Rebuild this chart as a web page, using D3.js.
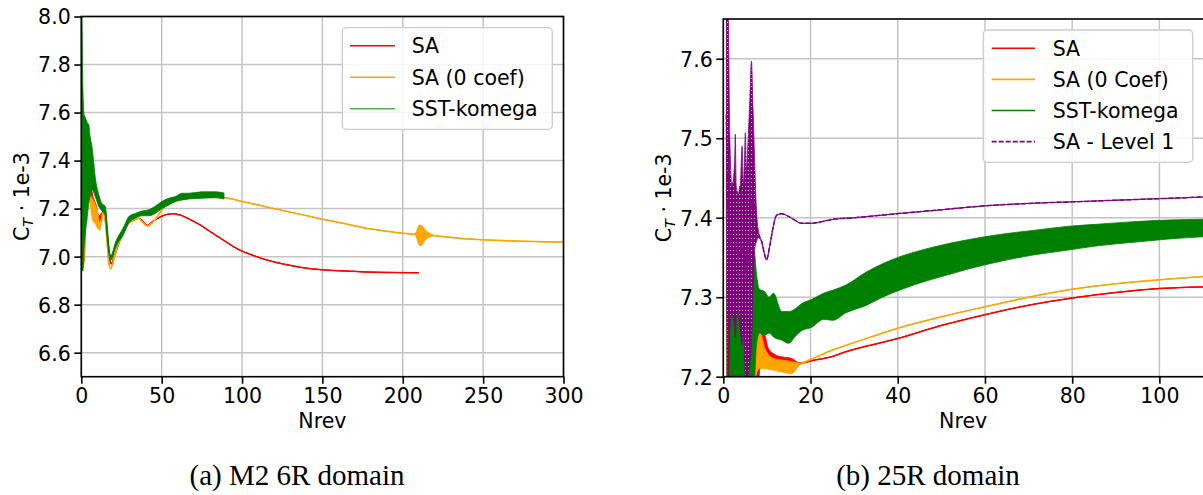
<!DOCTYPE html>
<html>
<head>
<meta charset="utf-8">
<script src="https://cdn.jsdelivr.net/npm/d3@7"></script>
<style>
  html, body { margin: 0; padding: 0; background: #fff; }
  svg { display: block; }
</style>
</head>
<body>
<svg id="fig" width="1203" height="495"></svg>
<script>
// Thrust coefficient history, C_T (x 1e-3) against revolutions.
// Each row is [Nrev, value] or [Nrev, low, high] where the signal
// oscillates too fast to resolve: low/high bound the oscillation band.

// ---- (a) M2 6R domain ----
const leftXTicks = [0, 50, 100, 150, 200, 250, 300];
const leftYTicks = [6.6, 6.8, 7.0, 7.2, 7.4, 7.6, 7.8, 8.0];
const leftLabels = ["SA", "SA (0 coef)", "SST-komega"];

const leftSA = [
  [0.8, 6.95, 7.20], [2, 7.00, 7.35], [3, 7.20, 7.50], [4, 7.30, 7.55], [5, 7.27, 7.40],
  [7, 7.18, 7.26], [9, 7.15, 7.22], [11, 7.13, 7.17], [12.5, 7.16, 7.18], [13.5, 7.18, 7.19],
  [15, 7.15, 7.16], [16.5, 7.05, 7.06], [17.5, 6.99, 7.00], [18.6, 6.97], [20, 6.99],
  [22, 7.03], [25.3, 7.09], [29.5, 7.14], [33.6, 7.155], [35.7, 7.16], [37.8, 7.15],
  [41, 7.13], [45, 7.15], [50, 7.168], [54, 7.177], [57.3, 7.179], [62, 7.172],
  [67, 7.157], [73.9, 7.132], [80, 7.105], [87, 7.075], [94.6, 7.042], [100, 7.023],
  [107, 7.005], [115.4, 6.986], [125, 6.97], [136, 6.956], [150, 6.945], [165, 6.94],
  [177.6, 6.936], [195, 6.934], [210, 6.933]
];

const leftSA0 = [
  [0.8, 6.95, 7.15], [1.5, 6.96, 7.25], [2.5, 7.12, 7.28], [3.5, 7.20, 7.27], [4.5, 7.24, 7.28],
  [5.5, 7.22, 7.26], [7, 7.15, 7.24], [8.5, 7.14, 7.22], [10, 7.12, 7.19], [11.5, 7.11, 7.14],
  [12.5, 7.14, 7.16], [13.5, 7.18, 7.19], [14.5, 7.16, 7.18], [16, 7.06, 7.08], [17, 6.97, 6.99],
  [18.2, 6.95], [19.5, 6.97], [21, 7.01], [25.3, 7.09], [29.5, 7.14], [33.6, 7.155],
  [35.7, 7.16], [37.8, 7.145], [41, 7.128], [44, 7.14], [48, 7.174], [52, 7.21],
  [58.5, 7.23], [67, 7.243], [79, 7.248], [89.6, 7.245], [100, 7.23], [108, 7.218],
  [120, 7.20], [136, 7.177], [150, 7.156], [165, 7.136], [177.6, 7.118], [190, 7.106],
  [200, 7.097], [207, 7.093], [208.5, 7.08, 7.105], [210, 7.05, 7.13], [211.5, 7.045, 7.132],
  [213, 7.06, 7.12], [215, 7.075, 7.105], [217.5, 7.083, 7.095], [220, 7.087], [235, 7.077],
  [250, 7.07], [275, 7.064], [300, 7.06]
];

const leftSST = [
  [0.3, 6.95, 8.05], [1.0, 6.94, 7.70], [1.8, 7.05, 7.59], [2.5, 7.10, 7.58], [3.5, 7.15, 7.56],
  [4.6, 7.22, 7.55], [5.5, 7.25, 7.50], [6.6, 7.28, 7.46], [7.6, 7.27, 7.40], [8.7, 7.25, 7.33],
  [10.8, 7.21, 7.26], [12.9, 7.19, 7.22], [14.9, 7.17, 7.21], [16.0, 7.08, 7.14], [17.0, 7.02, 7.06],
  [18.0, 6.985, 7.005], [19.0, 6.99, 7.01], [21, 7.03, 7.055], [23, 7.06, 7.085], [25.3, 7.08, 7.11],
  [27.5, 7.11, 7.14], [29.5, 7.14, 7.167], [33.6, 7.16, 7.18], [37.8, 7.17, 7.19], [41.9, 7.17, 7.195],
  [46, 7.18, 7.21], [50.2, 7.20, 7.23], [54.4, 7.215, 7.243], [58.5, 7.23, 7.25], [62.7, 7.236, 7.264],
  [66.8, 7.24, 7.264], [75, 7.243, 7.27], [83.4, 7.245, 7.27], [88.8, 7.24, 7.265]
];

// ---- (b) 25R domain ----
const rightXTicks = [0, 20, 40, 60, 80, 100];
const rightYTicks = [7.2, 7.3, 7.4, 7.5, 7.6];
const rightLabels = ["SA", "SA (0 Coef)", "SST-komega", "SA - Level 1"];

const rightSA = [
  [0.8, 7.10, 7.70], [1.1, 7.10], [5.0, 7.10], [5.5, 7.15, 7.235], [6.2, 7.15, 7.20],
  [7.5, 7.15, 7.20], [8.6, 7.22, 7.254], [9.5, 7.223, 7.252], [10.3, 7.215, 7.236],
  [11.8, 7.218, 7.228], [13.4, 7.217, 7.225], [15.7, 7.215, 7.223], [17.6, 7.217], [21, 7.221],
  [24.8, 7.225], [27.9, 7.231], [40, 7.248], [49.7, 7.264], [60, 7.278], [70, 7.29],
  [80, 7.299], [90, 7.306], [100, 7.311], [110, 7.313]
];

const rightSA0 = [
  [0.8, 7.10, 7.70], [1.1, 7.10], [5.0, 7.10, 7.12], [5.8, 7.15, 7.238], [6.4, 7.17, 7.21],
  [7.4, 7.20, 7.23], [8.2, 7.21, 7.259], [9.5, 7.21, 7.236], [11.5, 7.208, 7.223],
  [13.4, 7.206, 7.221], [15.7, 7.204, 7.219], [17.6, 7.215, 7.217], [21, 7.224], [24.8, 7.233],
  [27.9, 7.239], [34.4, 7.251], [40, 7.261], [49.7, 7.275], [60, 7.288], [70, 7.30],
  [80, 7.31], [90, 7.317], [100, 7.322], [110, 7.326]
];

const rightSST = [
  [0.85, 7.15, 7.48], [1.2, 7.15, 7.30], [1.6, 7.15, 7.40], [2.3, 7.15, 7.445], [3.0, 7.15, 7.40],
  [3.8, 7.15, 7.44], [4.5, 7.15, 7.40], [5.5, 7.15, 7.38], [6.5, 7.18, 7.37], [7.2, 7.20, 7.355],
  [7.6, 7.24, 7.33], [8.3, 7.255, 7.31], [9.5, 7.252, 7.307], [10.5, 7.255, 7.30], [11.5, 7.25, 7.305],
  [13.4, 7.246, 7.282], [15.0, 7.242, 7.282], [16.4, 7.25, 7.285], [18, 7.258, 7.292],
  [20.2, 7.262, 7.297], [23, 7.272, 7.305], [25.2, 7.271, 7.309], [28, 7.28, 7.315],
  [32.9, 7.29, 7.332], [36.5, 7.30, 7.342], [40.5, 7.309, 7.351], [44, 7.316, 7.357],
  [48.1, 7.323, 7.363], [52, 7.329, 7.368], [55.8, 7.335, 7.372], [63.4, 7.345, 7.379],
  [71, 7.353, 7.384], [78.7, 7.359, 7.389], [86.3, 7.365, 7.392], [94, 7.369, 7.395],
  [101.6, 7.373, 7.397], [110, 7.376, 7.398]
];

const rightLevel1 = [
  [0.7, 7.40, 7.66], [1.1, 7.15, 7.66], [1.5, 7.26, 7.50], [2.0, 7.28, 7.44], [2.6, 7.26, 7.47],
  [2.75, 7.25, 7.505], [2.95, 7.27, 7.44], [3.5, 7.28, 7.43], [3.9, 7.26, 7.44], [4.3, 7.24, 7.49],
  [4.6, 7.26, 7.44], [4.9, 7.22, 7.48], [5.05, 7.20, 7.507], [5.3, 7.18, 7.46], [5.7, 7.20, 7.50],
  [6.1, 7.22, 7.55], [6.45, 7.24, 7.597], [6.8, 7.30, 7.54], [7.2, 7.36, 7.47], [7.6, 7.37, 7.41],
  [8.0, 7.375, 7.385], [8.8, 7.37], [9.5, 7.353], [9.9, 7.347], [10.7, 7.366], [11.5, 7.39],
  [12.2, 7.403], [13.4, 7.405], [14.5, 7.403], [16.4, 7.397], [18, 7.393], [20.2, 7.393],
  [22.5, 7.395], [25.2, 7.398], [30, 7.40], [39.7, 7.405], [50, 7.41], [60, 7.415],
  [70, 7.418], [80, 7.42], [90, 7.422], [100, 7.424], [110, 7.426]
];

const captions = ["(a) M2 6R domain", "(b) 25R domain"];

// ---- drawing ----
const svg = d3.select("#fig");
const defs = svg.append("defs");
const FS = 20.5;
const SANS = "DejaVu Sans, sans-serif";
const lo = r => r[1];
const hi = r => (r.length > 2 ? r[2] : r[1]);
const mid = r => (lo(r) + hi(r)) / 2;

// dashed-line texture for densely oscillating dashed traces
const pat = defs.append("pattern").attr("id", "dashFill")
  .attr("patternUnits", "userSpaceOnUse").attr("width", 3).attr("height", 4);
pat.append("rect").attr("width", 3).attr("height", 4).attr("fill", "#800080");
pat.append("rect").attr("x", 1).attr("y", 2).attr("width", 1).attr("height", 1).attr("fill", "#e8c8e8");

function panel(o) {
  const x = d3.scaleLinear().domain(o.xDomain).range([o.left, o.right]);
  const y = d3.scaleLinear().domain(o.yDomain).range([o.bottom, o.top]);
  const g = svg.append("g").attr("font-family", SANS);

  defs.append("clipPath").attr("id", o.id)
    .append("rect").attr("x", o.left).attr("y", o.top)
    .attr("width", o.right - o.left).attr("height", o.bottom - o.top);

  // grid
  const grid = g.append("g").attr("stroke", "#c4c4c4").attr("stroke-width", 1.5);
  grid.selectAll(".gx").data(o.xTicks).join("line")
    .attr("x1", d => x(d)).attr("x2", d => x(d)).attr("y1", o.top).attr("y2", o.bottom);
  grid.selectAll(".gy").data(o.yTicks).join("line")
    .attr("x1", o.left).attr("x2", o.right).attr("y1", d => y(d)).attr("y2", d => y(d));

  // series
  const plot = g.append("g").attr("clip-path", `url(#${o.id})`);
  o.series.forEach(s => {
    const band = d3.area().curve(d3.curveMonotoneX)
      .x(r => x(r[0])).y0(r => y(lo(r))).y1(r => y(hi(r)));
    const line = d3.line().curve(d3.curveMonotoneX)
      .x(r => x(r[0])).y(r => y(mid(r)));
    plot.append("path").datum(s.data).attr("d", band)
      .attr("fill", s.bandFill || s.color)
      .attr("stroke", s.color).attr("stroke-width", 0.8);
    plot.append("path").datum(s.data).attr("d", line)
      .attr("fill", "none").attr("stroke", s.color).attr("stroke-width", 1.5)
      .attr("stroke-linejoin", "round")
      .attr("stroke-dasharray", s.dash || null);
  });

  // axes
  const xa = g.append("g").attr("transform", `translate(0,${o.bottom})`)
    .call(d3.axisBottom(x).tickValues(o.xTicks).tickFormat(d3.format("d")).tickSize(7).tickSizeOuter(0));
  const ya = g.append("g").attr("transform", `translate(${o.left},0)`)
    .call(d3.axisLeft(y).tickValues(o.yTicks).tickFormat(d3.format(".1f")).tickSize(7).tickSizeOuter(0));
  [xa, ya].forEach(a => {
    a.select(".domain").remove();
    a.selectAll(".tick line").attr("stroke", "#000").attr("stroke-width", 1.6);
    a.selectAll(".tick text").attr("font-size", FS).attr("font-family", SANS).attr("fill", "#000");
  });
  xa.selectAll(".tick text").attr("y", 26.3).attr("dy", 0);
  ya.selectAll(".tick text").attr("x", -10.6).attr("dy", "0.36em");

  // frame
  g.append("rect").attr("x", o.left).attr("y", o.top)
    .attr("width", o.frameRight - o.left).attr("height", o.bottom - o.top)
    .attr("fill", "none").attr("stroke", "#000").attr("stroke-width", 1.6);

  // axis titles
  g.append("text").attr("x", (o.left + o.right) / 2).attr("y", 428)
    .attr("text-anchor", "middle").attr("font-size", FS).text("Nrev");
  const yl = g.append("text")
    .attr("transform", `translate(${o.yLabelX},${(o.top + o.bottom) / 2}) rotate(-90)`)
    .attr("text-anchor", "middle").attr("dy", "0.36em").attr("font-size", FS);
  yl.append("tspan").text("C");
  yl.append("tspan").attr("font-style", "italic").attr("font-size", FS * 0.7).attr("dy", 4).text("T");
  yl.append("tspan").attr("dy", -4).text(" \u00b7 1e-3");

  // legend
  const L = o.legend;
  const lg = g.append("g");
  lg.append("rect").attr("x", L.x0).attr("y", L.y0).attr("width", L.x1 - L.x0).attr("height", L.y1 - L.y0)
    .attr("rx", 4).attr("fill", "#fff").attr("fill-opacity", 0.85)
    .attr("stroke", "#cccccc").attr("stroke-width", 1.3);
  o.series.forEach((s, i) => {
    const ry = L.rowY + i * L.rowStep;
    lg.append("line").attr("x1", L.hx0).attr("x2", L.hx1).attr("y1", ry).attr("y2", ry)
      .attr("stroke", s.color).attr("stroke-width", 1.6).attr("stroke-opacity", s.legendOpacity || 1)
      .attr("stroke-dasharray", s.dash || null);
    lg.append("text").attr("x", L.tx).attr("y", ry).attr("dy", "0.36em")
      .attr("font-size", FS).text(o.labels[i]);
  });
}

panel({
  id: "clipA", left: 81.3, right: 563.5, frameRight: 563.5, top: 16.5, bottom: 376.7,
  xDomain: [0, 300], yDomain: [6.5, 8.0], xTicks: leftXTicks, yTicks: leftYTicks,
  yLabelX: 22, labels: leftLabels,
  series: [
    { data: leftSA, color: "#ff0000" },
    { data: leftSA0, color: "#ffa500" },
    { data: leftSST, color: "#008000", legendOpacity: 0.65 }
  ],
  legend: { x0: 342.3, x1: 552.3, y0: 27.7, y1: 129.3, rowY: 45.7, rowStep: 31.5, hx0: 350, hx1: 395, tx: 411.7 }
});

panel({
  id: "clipB", left: 723.3, right: 1203, frameRight: 1206, top: 19, bottom: 376.7,
  xDomain: [0, 110], yDomain: [7.2, 7.65], xTicks: rightXTicks, yTicks: rightYTicks,
  yLabelX: 664, labels: rightLabels,
  series: [
    { data: rightSA, color: "#ff0000" },
    { data: rightSA0, color: "#ffa500" },
    { data: rightSST, color: "#008000" },
    { data: rightLevel1, color: "#800080", dash: "5,2", bandFill: "url(#dashFill)" }
  ],
  legend: { x0: 983.3, x1: 1192.7, y0: 30, y1: 162.3, rowY: 48.3, rowStep: 31.1, hx0: 991.7, hx1: 1035, tx: 1052.7 }
});

// sub-figure captions
svg.selectAll(".cap").data(captions).join("text")
  .attr("x", (d, i) => [297, 928][i]).attr("y", 485)
  .attr("text-anchor", "middle")
  .attr("font-family", "Liberation Serif, Times New Roman, serif")
  .attr("font-size", 29).text(d => d);
</script>
</body>
</html>
